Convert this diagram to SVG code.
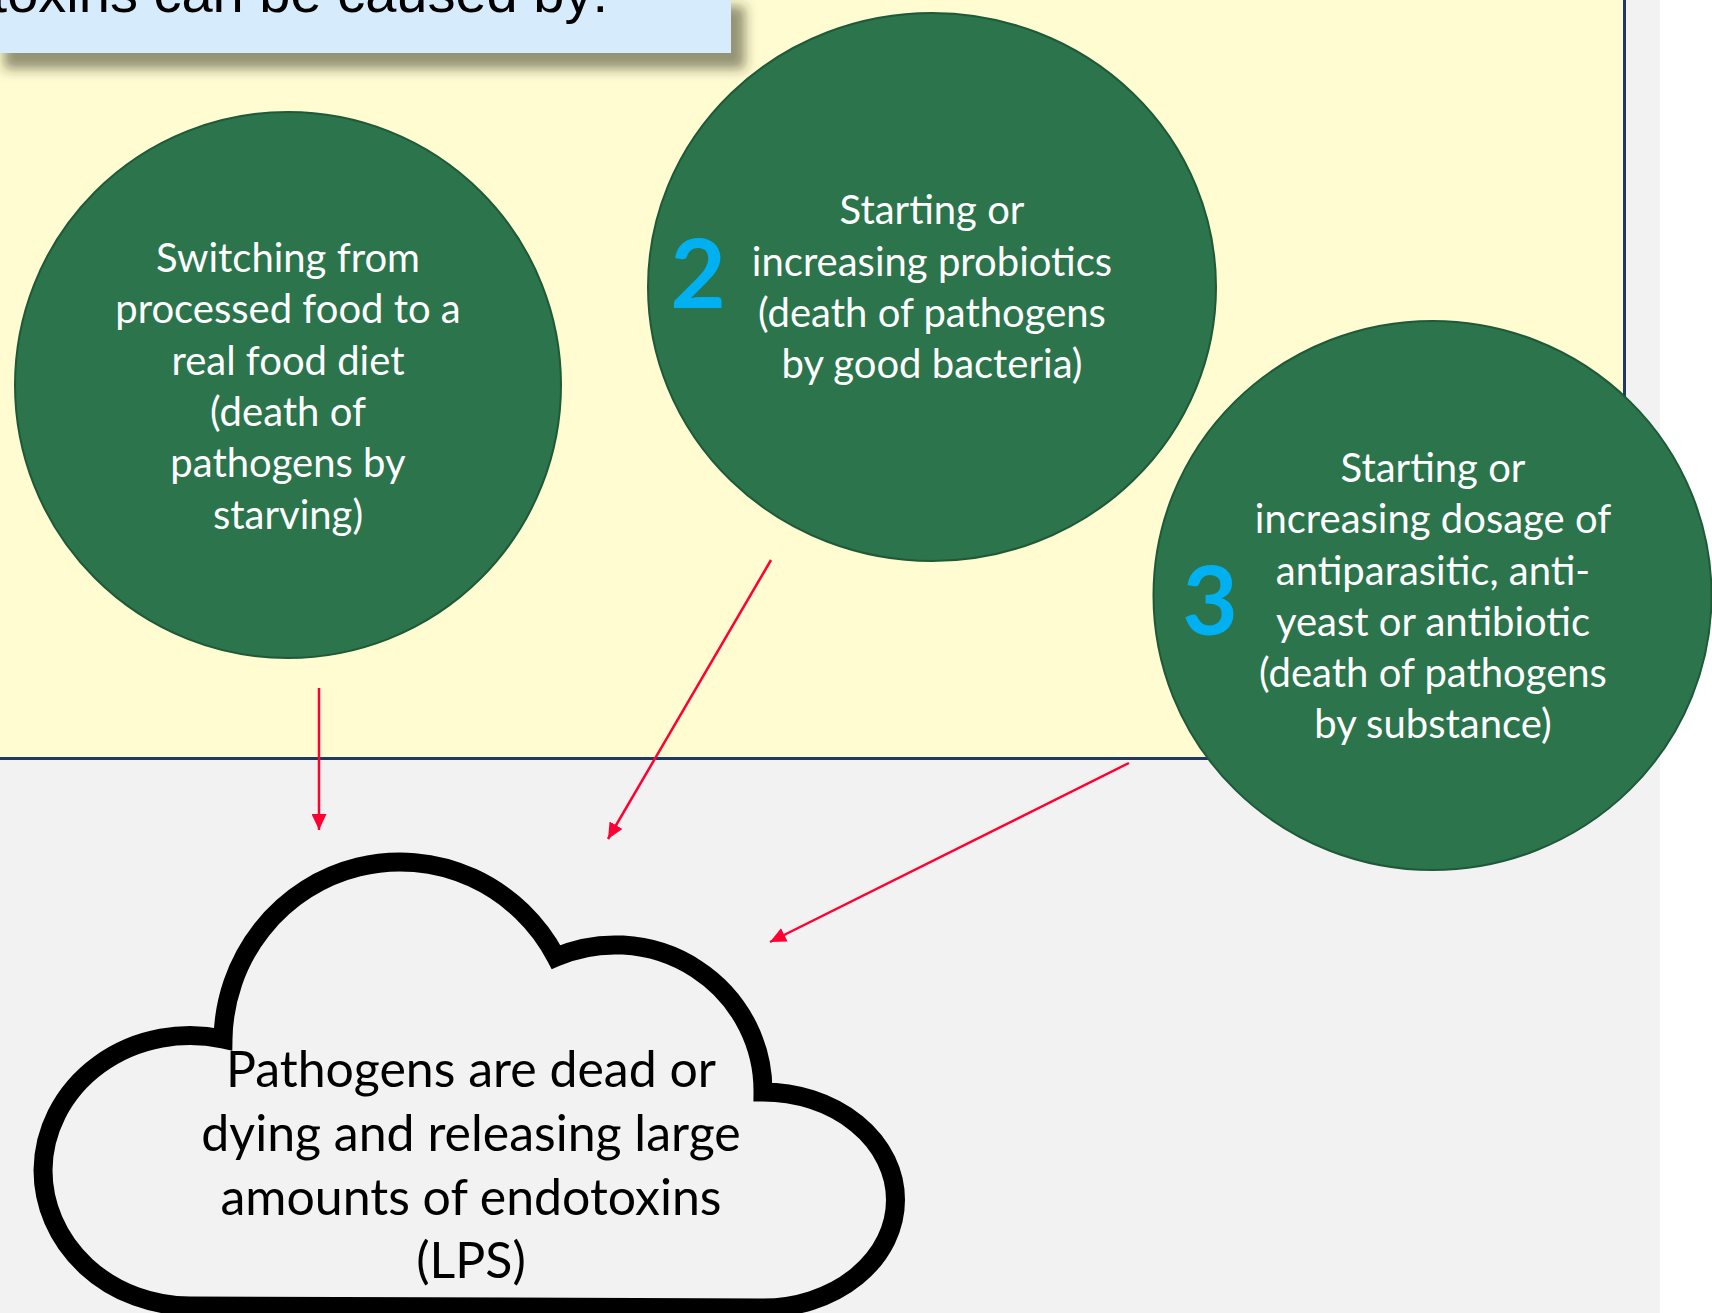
<svg xmlns="http://www.w3.org/2000/svg" width="1712" height="1313" viewBox="0 0 1712 1313">
<style>
.node circle, .node ellipse{fill:#2B744C;stroke:#1E5A38;stroke-width:2}
.ct{font-family:Lato,"Open Sans",sans-serif;font-size:40px;fill:#FFFFFF;text-anchor:middle}
.num{font-family:Lato,"Open Sans",sans-serif;font-weight:bold;font-size:96px;fill:#00B0F0;text-anchor:middle}
.cl{font-family:Lato,"Open Sans",sans-serif;font-size:50px;fill:#000000;text-anchor:middle}
.arr{stroke:#FF0033;stroke-width:2.5;fill:none;marker-end:url(#ah)}
</style>
<defs>
<marker id="ah" markerUnits="userSpaceOnUse" markerWidth="16" markerHeight="15" refX="16" refY="7.5" orient="auto">
<path d="M0,0 L16,7.5 L0,15 Z" fill="#FF0033"/>
</marker>
<filter id="sh" x="-10%" y="-50%" width="130%" height="250%">
<feDropShadow dx="14" dy="16" stdDeviation="6" flood-color="#2a2a10" flood-opacity="0.5"/>
</filter>
</defs>
<rect x="0" y="0" width="1712" height="1313" fill="#FFFFFF"/>
<rect x="0" y="0" width="1660" height="1313" fill="#F2F2F2"/>
<g id="panel">
<rect x="-5" y="-5" width="1629" height="763" fill="#FFFCD2"/>
<path d="M1624.5,0 L1624.5,758.5 L0,758.5" fill="none" stroke="#1F3864" stroke-width="3"/>
</g>
<g id="title">
<rect x="-10" y="-10" width="741" height="63" fill="#D6EBFC" filter="url(#sh)"/>
<text x="608" y="12" font-family="'Liberation Sans',Arial,sans-serif" font-size="56" fill="#000000" text-anchor="end">toxins can be caused by:</text>
</g>
<g id="connectors">
<line class="arr" x1="319" y1="688" x2="319" y2="830"/>
<line class="arr" x1="771" y1="560" x2="608" y2="839"/>
<line class="arr" x1="1129" y1="763" x2="770" y2="942"/>
</g>
<g id="node1" class="node">
<circle cx="288" cy="385" r="273"/>
<text class="ct" x="288" y="272">Switching from</text>
<text class="ct" x="288" y="323">processed food to a</text>
<text class="ct" x="288" y="375">real food diet</text>
<text class="ct" x="288" y="426">(death of</text>
<text class="ct" x="288" y="477">pathogens by</text>
<text class="ct" x="288" y="529">starving)</text>
</g>
<g id="node2" class="node">
<ellipse cx="932" cy="287" rx="284" ry="274"/>
<text class="num" x="698" y="308">2</text>
<text class="ct" x="932" y="224">Starting or</text>
<text class="ct" x="932" y="276">increasing probiotics</text>
<text class="ct" x="932" y="327">(death of pathogens</text>
<text class="ct" x="932" y="378">by good bacteria)</text>
</g>
<g id="node3" class="node">
<ellipse cx="1432.5" cy="595.5" rx="279" ry="274.5"/>
<text class="num" x="1210" y="635">3</text>
<text class="ct" x="1433" y="482">Starting or</text>
<text class="ct" x="1433" y="533">increasing dosage of</text>
<text class="ct" x="1433" y="585">antiparasitic, anti-</text>
<text class="ct" x="1433" y="636">yeast or antibiotic</text>
<text class="ct" x="1433" y="687">(death of pathogens</text>
<text class="ct" x="1433" y="738">by substance)</text>
</g>
<g id="cloud">
<path d="M223,1039 A177,180 0 0 1 556,957 A148,146 0 0 1 763,1092 A132.5,108 0 0 1 895.5,1200 A132.5,108 0 0 1 763,1308 L190,1306 A147,136 0 0 1 43,1170 A147,136 0 0 1 223,1039 Z" fill="#F2F2F2" stroke="#000000" stroke-width="19" stroke-linejoin="miter"/>
<text class="cl" x="471" y="1087">Pathogens are dead or</text>
<text class="cl" x="471" y="1151">dying and releasing large</text>
<text class="cl" x="471" y="1215">amounts of endotoxins</text>
<text class="cl" x="471" y="1278">(LPS)</text>
</g>
</svg>
